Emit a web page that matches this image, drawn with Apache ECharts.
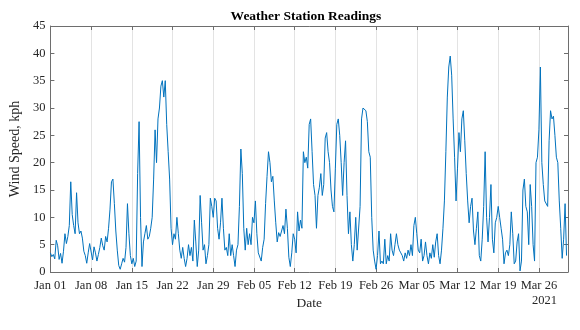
<!DOCTYPE html>
<html><head><meta charset="utf-8">
<script src="https://cdn.jsdelivr.net/npm/echarts@6/dist/echarts.min.js"></script>
<style>html,body{margin:0;padding:0;background:#fff}#c{width:580px;height:330px}</style>
</head><body><div id="c"></div>
<script>
// Tick labels for the date axis (one every 7 days from Jan 01 2021)
const tickLabels = ['Jan 01','Jan 08','Jan 15','Jan 22','Jan 29','Feb 05','Feb 12','Feb 19','Feb 26','Mar 05','Mar 12','Mar 19','Mar 26'];
const yearLabel = '2021';
const titleText = 'Weather Station Readings';
const xName = 'Date';
const yName = 'Wind Speed, kph';
const samplesPerDay = 4; // readings every 6 hours
// Wind speed (kph), 4 readings per day starting Jan 01 00:00
const windSpeed = [
 3.5, 2.8, 3.2, 2.4,   5.8, 4.8, 2.3, 3.4,   1.6, 3.8, 7.0, 5.2,   6.5, 8.5, 16.5, 10.5,
 8.5, 7.0, 14.5, 9.0,  7.0, 7.5, 6.2, 3.8,   3.0, 1.6, 3.5, 5.2,   5.0, 2.2, 4.6, 3.5,
 2.0, 3.2, 4.5, 6.2,   4.8, 4.0, 6.5, 5.5,   8.0, 11.5, 16.5, 17.0, 12.5, 7.5, 4.0, 1.2,
 0.5, 1.5, 2.5, 1.8,   4.5, 12.5, 7.0, 3.0,  1.5, 2.5, 1.0, 2.0,   18.0, 27.5, 10.0, 1.0,
 5.5, 7.0, 8.5, 6.0,   6.5, 8.0, 10.0, 17.0, 26, 20, 28, 30,       34, 35, 32, 35,
 27, 22, 17, 8,        5, 7, 6, 10,          7, 4, 2.5, 4.5,       2.5, 1.0, 2.5, 5.0,
 3.0, 4.5, 2.0, 9.5,   5.5, 1.0, 4.0, 14.0,  9.0, 4.0, 5.0, 1.5,   3.0, 5.0, 13.5, 12.0,
 10.0, 13.5, 13.0, 8.0, 6.0, 9.0, 13.5, 8.0, 4.0, 4.5, 3.0, 7.0,   3.0, 5.0, 3.0, 1.0,
 4.0, 5.0, 12.0, 22.5, 18.0, 8.0, 4.0, 8.0,  5.0, 7.0, 5.0, 10.0,  9.0, 13.0, 7.0, 3.5,
 3.3, 2.0, 4.5, 6.0,   12.5, 17.5, 22.0, 20.0, 16.5, 17.5, 13.0, 9.0, 5.5, 7.2, 6.5, 7.5,
 8.5, 7.0, 11.5, 8.0,  2.7, 1.0, 3.5, 7.0,   6.0, 3.5, 11.0, 7.5,  9.5, 8.0, 22.0, 20.0,
 21, 19, 27, 28,       22, 16, 14, 8,        14, 15.5, 18, 14,     16, 24.5, 25.5, 22,
 20, 15, 12, 11,       19, 27, 28, 25,       20, 14, 20, 24,       14, 7, 11, 5,
 2.0, 5.0, 10.0, 4.0,  4.0, 12.0, 28.0, 30.0, 30, 29.5, 27.5, 22,  21, 10, 4, 2,
 0.5, 3, 7.5, 1.5,     2, 1.5, 6, 1.5,       3, 2, 7, 4,           3, 5, 7, 5,
 4, 3.5, 3, 2,         3.5, 2.5, 4, 3,       5, 3, 8.5, 10,        7, 4, 3.5, 6,
 2, 3, 5.5, 3,         1.5, 3.5, 2.5, 5,     2.7, 5.5, 7, 3,       1.5, 4, 8, 13,
 22, 32, 37.5, 39.5,   36, 28, 21, 13,       19, 25.5, 22, 28,     29.5, 24, 18, 13,
 9, 12, 13.5, 7.5,     5, 8, 11, 3,          2, 6, 12, 22,         10, 5.5, 10, 16,
 6, 3.5, 9, 10,        12, 10, 8, 6,         1.5, 3.5, 4, 3,       5, 11, 7, 1.5,
 2, 5.5, 7, 0.2,       2, 15, 17, 12,        11, 5, 16, 12,        5, 2, 20, 21,
 26, 37.5, 20, 16,     13, 13, 12, 24,       29.5, 28, 28.5, 25,   21, 20, 13, 8,
 2.5, 6, 12.5, 3
];
const seriesData = windSpeed.map((v, i) => [i / samplesPerDay, v]);

const FONT = '"Liberation Serif","Times New Roman",serif';
const TXT = '#262626';
const AX = '#6e6e6e';
const chart = echarts.init(document.getElementById('c'), null, {renderer: 'canvas'});
const axisCommon = {
  axisLine: {show: true, onZero: false, lineStyle: {color: AX, width: 1}},
  axisTick: {show: true, inside: true, length: 4, lineStyle: {color: AX, width: 1}}
};
chart.setOption({
  animation: false,
  backgroundColor: '#fff',
  grid: {left: 44, right: 12, top: 26, bottom: 58, containLabel: false},
  xAxis: [
    Object.assign({
      type: 'value', min: 0, max: 89, interval: 7, position: 'bottom',
      axisLabel: {formatter: v => (tickLabels[v / 7] !== undefined ? tickLabels[v / 7] : ''),
        fontFamily: FONT, fontSize: 12.5, color: TXT, margin: 7, showMaxLabel: false},
      splitLine: {show: true, lineStyle: {color: '#e3e3e3', width: 1}},
      name: xName, nameLocation: 'middle', nameGap: 24,
      nameTextStyle: {fontFamily: FONT, fontSize: 13.5, color: TXT}
    }, axisCommon),
    Object.assign({
      type: 'value', min: 0, max: 89, interval: 7, position: 'top',
      axisLabel: {show: false}, splitLine: {show: false}
    }, axisCommon)
  ],
  yAxis: [
    Object.assign({
      type: 'value', min: 0, max: 45, interval: 5, position: 'left',
      axisLabel: {fontFamily: FONT, fontSize: 12.5, color: TXT, margin: 5},
      splitLine: {show: false},
      name: yName, nameLocation: 'middle', nameGap: 23, nameRotate: 90,
      nameTextStyle: {fontFamily: FONT, fontSize: 14, color: TXT}
    }, axisCommon),
    Object.assign({
      type: 'value', min: 0, max: 45, interval: 5, position: 'right',
      axisLabel: {show: false}, splitLine: {show: false}
    }, axisCommon)
  ],
  graphic: [
    {type: 'text', x: 306, y: 17, style: {text: titleText, font: 'bold 13.5px ' + FONT, fill: '#000', textAlign: 'center', textVerticalAlign: 'middle'}},
    {type: 'text', x: 557, y: 301, style: {text: yearLabel, font: '12.5px ' + FONT, fill: TXT, textAlign: 'right', textVerticalAlign: 'middle'}}
  ],
  series: [{
    type: 'line', data: seriesData, xAxisIndex: 0, yAxisIndex: 0,
    showSymbol: false, symbol: 'none',
    lineStyle: {color: '#0072BD', width: 1}
  }]
});
</script></body></html>
